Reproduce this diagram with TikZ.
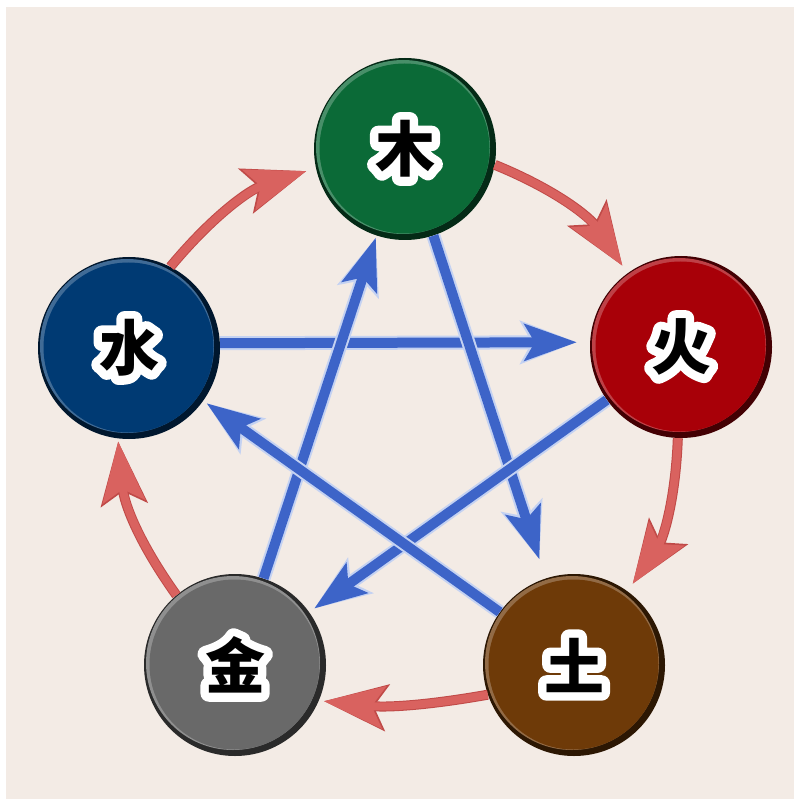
\documentclass[tikz,border=0pt]{standalone}
\usepackage{fontspec}
\newfontfamily\cjk{Noto Sans CJK SC}
\newfontfamily\cjkhalo{Noto Sans CJK SC}[BoldFeatures={FakeBold=28}]
\usetikzlibrary{arrows.meta}
\definecolor{bg}{HTML}{F3EBE5}
\definecolor{cgreen}{HTML}{0B6A37}
\definecolor{cnavy}{HTML}{003A73}
\definecolor{cred}{HTML}{A80008}
\definecolor{cgray}{HTML}{696969}
\definecolor{cbrown}{HTML}{6E3A08}
\definecolor{redA}{HTML}{D9625F}
\definecolor{redB}{HTML}{C04A48}
\definecolor{blueA}{HTML}{3D64C8}
\definecolor{blueL}{HTML}{C4D2F2}
\tikzset{
  elem/.style 2 args={circle, minimum size=182pt, inner sep=0pt, fill=#1!40!black,
    font=\cjk\bfseries\fontsize{60}{60}\selectfont, text=black,
    path picture={
      \fill[#1!75!white] ([shift={(-2pt,2pt)}]path picture bounding box.center) circle (87pt);
      \fill[#1] ([shift={(-0.5pt,0.5pt)}]path picture bounding box.center) circle (85pt);
      \node[text=white, font=\cjkhalo\bfseries\fontsize{60}{60}\selectfont]
          at (path picture bounding box.center) {\special{pdf:literal direct 1 j 1 J}#2};
    }},
  redarr/.style={draw=redA, line width=8pt,
    -{Stealth[length=60pt,width=42pt,inset=12pt]},
    preaction={draw=redB, line width=10pt, -{Stealth[length=63pt,width=46pt,inset=13pt]}}},
  bluearr/.style={draw=blueA, line width=10pt,
    -{Stealth[length=52pt,width=36pt,inset=10pt]},
    preaction={draw=blueL, line width=14pt, -{Stealth[length=56pt,width=42pt,inset=11pt]}}}
}
\begin{document}
\begin{tikzpicture}[x=1pt,y=-1pt]
\useasboundingbox (0,0) rectangle (794,799);
\fill[white] (0,0) rectangle (794,799);
\fill[bg] (6,7) rectangle (794,799);

\node[elem={cgreen}{木}] (mu) at (405,149) {木};
\node[elem={cred}{火}] (huo) at (681,347) {火};
\node[elem={cbrown}{土}] (tu) at (574,665) {土};
\node[elem={cgray}{金}] (jin) at (235,665) {金};
\node[elem={cnavy}{水}] (shui) at (129,348) {水};

% generating cycle (red)
\draw[redarr, shorten >=9pt] (mu.-10) to[bend left=17] (huo.126);
\draw[redarr, shorten >=9pt] (huo.-92) to[bend left=16] (tu.54);
\draw[redarr, shorten >=5pt] (tu.199) to[bend left=8] (jin.337);
\draw[redarr, shorten >=3pt] (jin.130) to[bend left=15] (shui.263);
\draw[redarr, shorten >=10pt] (shui.63) to[bend left=16] (mu.192);

% controlling star (blue)
\draw[bluearr, shorten >=13pt] (shui.3) -- (huo.177);
\draw[bluearr, shorten >=20pt] (mu) -- (tu);
\draw[bluearr, shorten >=6pt] (huo) -- (jin);
\draw[bluearr, shorten >=2pt] (jin) -- (mu);
\draw[bluearr, shorten >=4pt] (tu) -- (shui);
\end{tikzpicture}
\end{document}
